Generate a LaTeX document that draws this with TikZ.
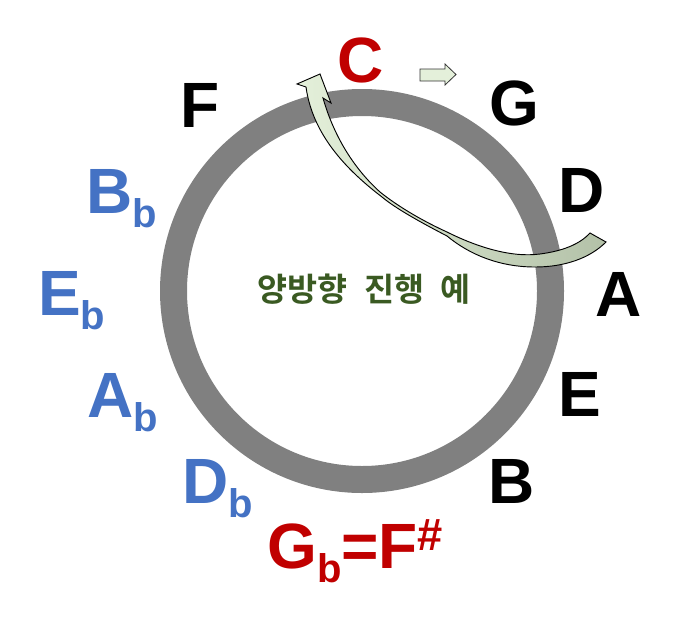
\documentclass[tikz,border=0pt]{standalone}
\usepackage{fontspec}
\setmainfont{Liberation Sans}
\newfontfamily\krfont{Noto Sans CJK KR}[BoldFont={Noto Sans CJK KR Bold}]
\usepackage{tikz}
\usetikzlibrary{positioning}
\usepackage{xcolor}
\definecolor{notered}{HTML}{C00000}
\definecolor{noteblue}{HTML}{4472C4}
\definecolor{ringgray}{HTML}{808080}
\definecolor{titlegreen}{HTML}{3A5A22}
\definecolor{arrowlight}{HTML}{E4F0DA}
\definecolor{arrowdark}{HTML}{B3C1A8}
\newcommand{\subfont}{\fontsize{30}{30}\selectfont\bfseries}
\newcommand{\flatof}[1]{#1\raisebox{-10.5pt}{\subfont b}}
\newcommand{\sharpof}[1]{#1\raisebox{13.5pt}{\fontsize{34}{34}\selectfont\bfseries\#}}

\begin{document}
\begin{tikzpicture}[x=0.75pt,y=-0.75pt,
  note/.style={font=\fontsize{48}{48}\selectfont\bfseries,inner sep=0pt,anchor=base west},
  natural/.style={note,black},
  flat/.style={note,noteblue},
  key/.style={note,notered},
  ring/.style={draw=ringgray,line width=20.25pt},
  blockarrow/.style={draw=black!80,line width=0.6pt,fill=arrowlight},
  bendarrow/.style={draw=black,line width=0.7pt,left color=arrowlight,right color=arrowdark}]
  \useasboundingbox (0,0) rectangle (680,621);
  \coordinate (ctr) at (362,291);
  \draw[ring] (ctr) circle[radius=188.5];

  \node[key] (c) at (337,82) {C};
  \node[natural] (g) at (489,125) {G};
  \node[natural] (d) at (558,212) {D};
  \node[natural] (a) at (595,316) {A};
  \node[natural] (e) at (558,416) {E};
  \node[natural] (b) at (488,503) {B};
  \node[key] (gb) at (267,568) {\flatof{G}=\sharpof{F}};
  \node[flat] (db) at (182,503) {\flatof{D}};
  \node[flat] (ab) at (87,417) {\flatof{A}};
  \node[flat] (eb) at (38,315) {\flatof{E}};
  \node[flat] (bb) at (86,213) {\flatof{B}};
  \node[natural] (f) at (180,127) {F};
  \node[font=\krfont\bfseries\fontsize{24.5}{24.5}\selectfont,text=titlegreen,inner sep=0pt]
    (title) at (364,289) {양방향\hspace{0.5em}진행\hspace{0.5em}예};

  \draw[blockarrow] (420,69) -- (445,69) -- (445,64) -- (456,74.5) -- (445,85)
    -- (445,81) -- (420,81) -- cycle;
  \shade[bendarrow] (306,87) -- (297,84) -- (320,74) -- (331,103) -- (323,98)
    .. controls (332,130) and (350,165) .. (380,192)
    .. controls (400,208) and (425,222) .. (447,232)
    .. controls (475,246) and (510,258) .. (540,254)
    .. controls (563,251) and (580,244) .. (590,233)
    -- (606,242)
    .. controls (590,258) and (565,267) .. (535,267)
    .. controls (500,267) and (470,255) .. (447,236)
    .. controls (420,222) and (395,208) .. (382,197)
    .. controls (340,165) and (312,130) .. (306,87) -- cycle;
\end{tikzpicture}
\end{document}
